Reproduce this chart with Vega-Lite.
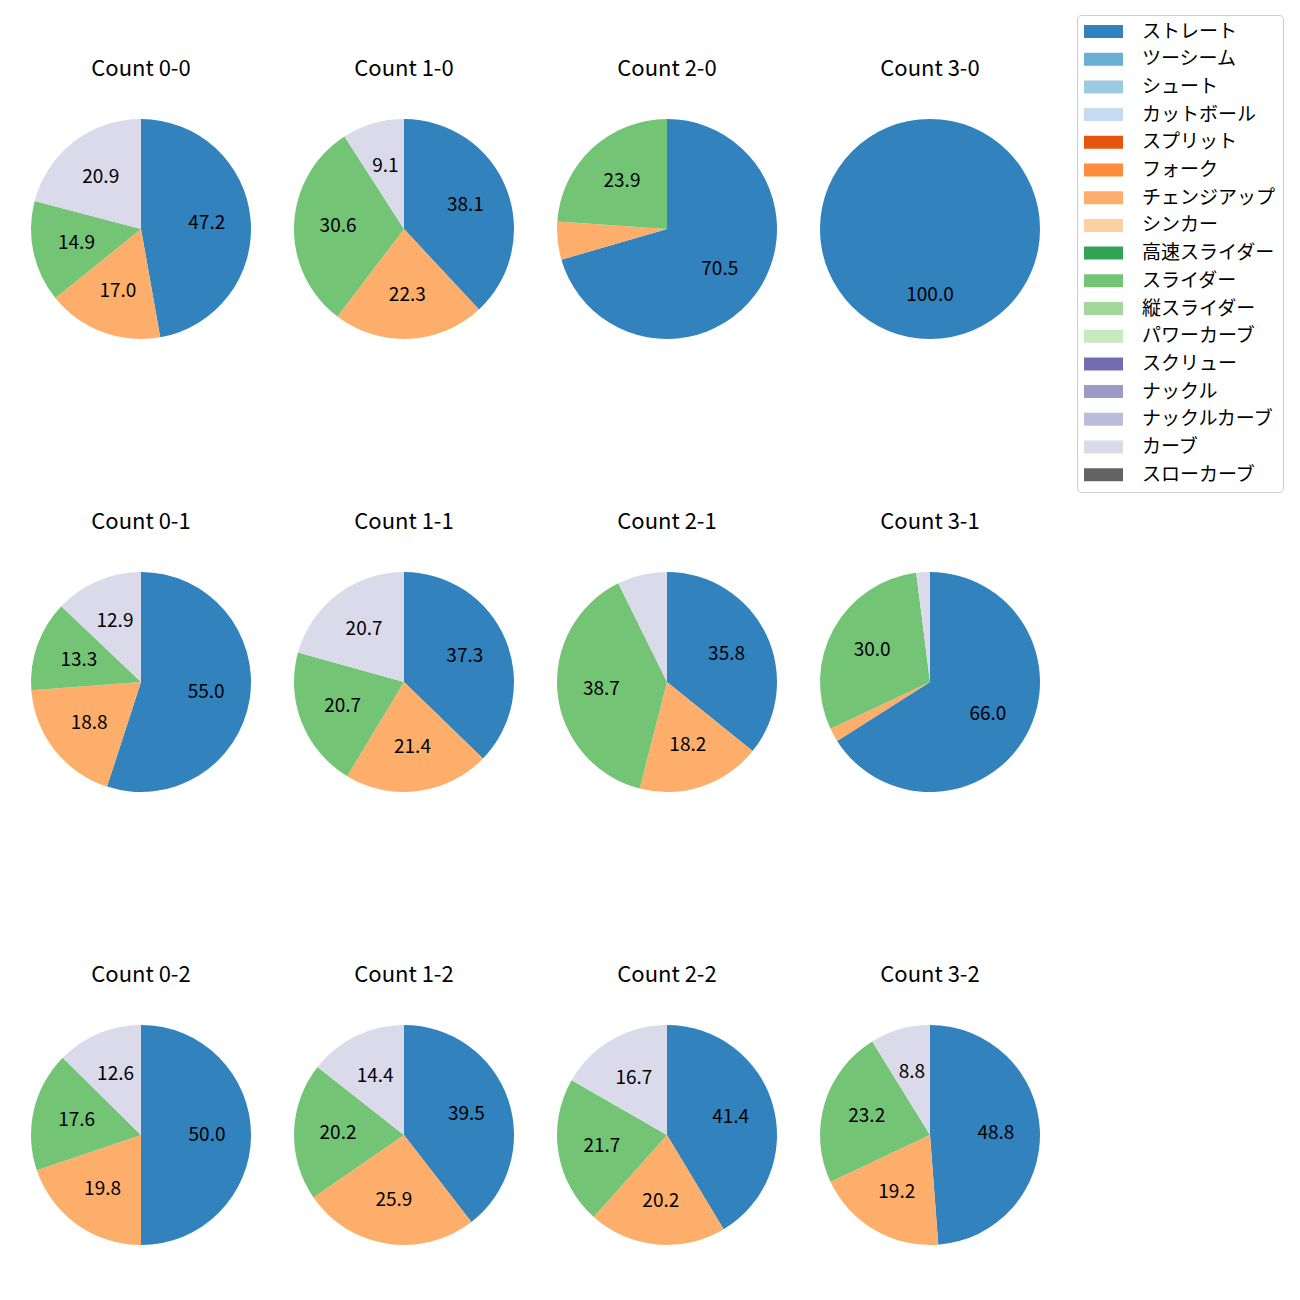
{
  "$schema": "https://vega.github.io/schema/vega-lite/v6.json",
  "padding": {"left": 31, "top": 14, "right": 5, "bottom": 5},
  "background": "white",
  "config": {"font": "Noto Sans CJK JP", "view": {"stroke": null}},
  "data": {"values": [
    {"c": "0-0", "p": 0, "t": "ストレート", "k": 0, "v": 47.2},
    {"c": "0-0", "p": 0, "t": "チェンジアップ", "k": 6, "v": 17.0},
    {"c": "0-0", "p": 0, "t": "スライダー", "k": 9, "v": 14.9},
    {"c": "0-0", "p": 0, "t": "カーブ", "k": 15, "v": 20.9},
    {"c": "1-0", "p": 1, "t": "ストレート", "k": 0, "v": 38.1},
    {"c": "1-0", "p": 1, "t": "チェンジアップ", "k": 6, "v": 22.3},
    {"c": "1-0", "p": 1, "t": "スライダー", "k": 9, "v": 30.6},
    {"c": "1-0", "p": 1, "t": "カーブ", "k": 15, "v": 9.1},
    {"c": "2-0", "p": 2, "t": "ストレート", "k": 0, "v": 70.5},
    {"c": "2-0", "p": 2, "t": "チェンジアップ", "k": 6, "v": 5.6},
    {"c": "2-0", "p": 2, "t": "スライダー", "k": 9, "v": 23.9},
    {"c": "3-0", "p": 3, "t": "ストレート", "k": 0, "v": 100.0},
    {"c": "0-1", "p": 4, "t": "ストレート", "k": 0, "v": 55.0},
    {"c": "0-1", "p": 4, "t": "チェンジアップ", "k": 6, "v": 18.8},
    {"c": "0-1", "p": 4, "t": "スライダー", "k": 9, "v": 13.3},
    {"c": "0-1", "p": 4, "t": "カーブ", "k": 15, "v": 12.9},
    {"c": "1-1", "p": 5, "t": "ストレート", "k": 0, "v": 37.3},
    {"c": "1-1", "p": 5, "t": "チェンジアップ", "k": 6, "v": 21.4},
    {"c": "1-1", "p": 5, "t": "スライダー", "k": 9, "v": 20.7},
    {"c": "1-1", "p": 5, "t": "カーブ", "k": 15, "v": 20.7},
    {"c": "2-1", "p": 6, "t": "ストレート", "k": 0, "v": 35.8},
    {"c": "2-1", "p": 6, "t": "チェンジアップ", "k": 6, "v": 18.2},
    {"c": "2-1", "p": 6, "t": "スライダー", "k": 9, "v": 38.7},
    {"c": "2-1", "p": 6, "t": "カーブ", "k": 15, "v": 7.3},
    {"c": "3-1", "p": 7, "t": "ストレート", "k": 0, "v": 66.0},
    {"c": "3-1", "p": 7, "t": "チェンジアップ", "k": 6, "v": 2.0},
    {"c": "3-1", "p": 7, "t": "スライダー", "k": 9, "v": 30.0},
    {"c": "3-1", "p": 7, "t": "カーブ", "k": 15, "v": 2.0},
    {"c": "0-2", "p": 8, "t": "ストレート", "k": 0, "v": 50.0},
    {"c": "0-2", "p": 8, "t": "チェンジアップ", "k": 6, "v": 19.8},
    {"c": "0-2", "p": 8, "t": "スライダー", "k": 9, "v": 17.6},
    {"c": "0-2", "p": 8, "t": "カーブ", "k": 15, "v": 12.6},
    {"c": "1-2", "p": 9, "t": "ストレート", "k": 0, "v": 39.5},
    {"c": "1-2", "p": 9, "t": "チェンジアップ", "k": 6, "v": 25.9},
    {"c": "1-2", "p": 9, "t": "スライダー", "k": 9, "v": 20.2},
    {"c": "1-2", "p": 9, "t": "カーブ", "k": 15, "v": 14.4},
    {"c": "2-2", "p": 10, "t": "ストレート", "k": 0, "v": 41.4},
    {"c": "2-2", "p": 10, "t": "チェンジアップ", "k": 6, "v": 20.2},
    {"c": "2-2", "p": 10, "t": "スライダー", "k": 9, "v": 21.7},
    {"c": "2-2", "p": 10, "t": "カーブ", "k": 15, "v": 16.7},
    {"c": "3-2", "p": 11, "t": "ストレート", "k": 0, "v": 48.8},
    {"c": "3-2", "p": 11, "t": "チェンジアップ", "k": 6, "v": 19.2},
    {"c": "3-2", "p": 11, "t": "スライダー", "k": 9, "v": 23.2},
    {"c": "3-2", "p": 11, "t": "カーブ", "k": 15, "v": 8.8}
  ]},
  "facet": {
    "field": "c", "type": "nominal",
    "sort": {"field": "p", "op": "min"},
    "header": {"title": null, "labelExpr": "'Count ' + datum.value", "labelFontSize": 22, "labelPadding": 38, "labelColor": "black", "labelFont": "Noto Sans CJK JP"}
  },
  "columns": 4,
  "spacing": {"column": 43, "row": 172},
  "spec": {
    "width": 220,
    "height": 220,
    "encoding": {
      "theta": {"field": "v", "type": "quantitative", "stack": "normalize"},
      "order": {"field": "k", "type": "quantitative"}
    },
    "layer": [
      {
        "mark": {"type": "arc"},
        "encoding": {
          "color": {
            "field": "t", "type": "nominal",
            "scale": {
              "domain": ["ストレート", "ツーシーム", "シュート", "カットボール", "スプリット", "フォーク", "チェンジアップ", "シンカー", "高速スライダー", "スライダー", "縦スライダー", "パワーカーブ", "スクリュー", "ナックル", "ナックルカーブ", "カーブ", "スローカーブ"],
              "range": ["#3182bd", "#6baed6", "#9ecae1", "#c6dbef", "#e6550d", "#fd8d3c", "#fdae6b", "#fdd0a2", "#31a354", "#74c476", "#a1d99b", "#c7e9c0", "#756bb1", "#9e9ac8", "#bcbddc", "#dadaeb", "#636363"]
            },
            "legend": {
              "orient": "none", "legendX": 1046, "legendY": -104,
              "title": null,
              "labelFontSize": 19, "labelColor": "black", "labelFont": "Noto Sans CJK JP",
              "symbolType": "M-1.46,-1H4.54V1H-1.46Z", "symbolSize": 169,
              "symbolStrokeWidth": 0, "symbolOpacity": 1,
              "labelOffset": 39, "rowPadding": 7.7,
              "padding": 7, "strokeColor": "#cccccc", "cornerRadius": 4, "fillColor": "white"
            }
          }
        }
      },
      {
        "mark": {"type": "text", "radius": 66, "fontSize": 19, "color": "black"},
        "encoding": {
          "text": {"field": "v", "type": "quantitative", "format": ".1f"},
          "opacity": {"condition": {"test": "datum.v < 8", "value": 0}, "value": 1}
        }
      }
    ]
  }
}
